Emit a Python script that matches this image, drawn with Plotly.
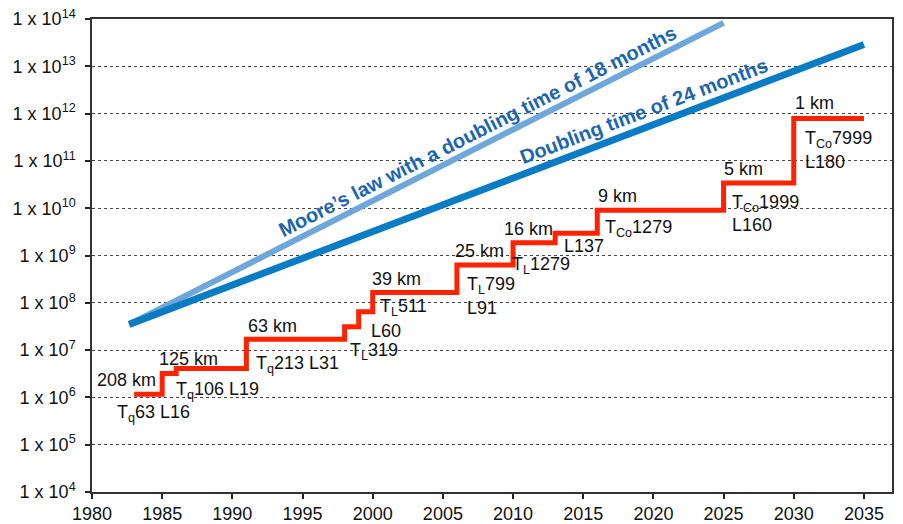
import plotly.graph_objects as go

# ---- data ----
step_years = [1983, 1985, 1986, 1991, 1998, 1999, 2000, 2006, 2010, 2013, 2016, 2025, 2030, 2035]
step_values = [1.17e6, 3.2e6, 4.1e6, 1.7e7, 3.1e7, 6.5e7, 1.66e8, 6.3e8, 1.86e9, 2.95e9, 9.1e9, 3.4e10, 7.9e11, 7.9e11]

moore18_years = [1982.65, 2025.0]
moore18_values = [3.5e7, 8.3e13]
moore24_years = [1982.65, 2035.0]
moore24_values = [3.5e7, 2.9e13]

y_exponents = list(range(4, 15))
x_ticks = list(range(1980, 2036, 5))

label_texts = [
    "208 km", "T<sub>q</sub>63 L16", "125 km", "T<sub>q</sub>106 L19", "63 km",
    "T<sub>q</sub>213 L31", "T<sub>L</sub>319", "L60", "T<sub>L</sub>511", "39 km",
    "25 km", "T<sub>L</sub>799", "L91", "16 km", "T<sub>L</sub>1279", "L137",
    "9 km", "T<sub>Co</sub>1279", "5 km", "T<sub>Co</sub>1999", "L160",
    "1 km", "T<sub>Co</sub>7999", "L180",
]
# label placement (year of left edge, log10 of vertical centre)
label_pos = [
    (1980.19, 6.36), (1981.62, 5.66), (1984.61, 6.82), (1985.82, 6.14), (1990.96, 7.50),
    (1991.53, 6.70), (1998.25, 6.97), (1999.74, 7.40), (2000.39, 7.90), (1999.79, 8.51),
    (2005.73, 9.10), (2006.56, 8.36), (2006.56, 7.90), (2009.20, 9.57), (2009.77, 8.78),
    (2013.46, 9.21), (2015.88, 10.25), (2016.42, 9.57), (2024.86, 10.83), (2025.44, 10.10),
    (2025.44, 9.65), (2029.96, 12.23), (2030.67, 11.46), (2030.67, 10.98),
]

FONT = "Liberation Sans, Arial, Helvetica, sans-serif"

fig = go.Figure()
fig.add_trace(go.Scatter(x=moore18_years, y=moore18_values, mode="lines",
                         line=dict(color="#6EA8DA", width=6), hoverinfo="skip"))
fig.add_trace(go.Scatter(x=moore24_years, y=moore24_values, mode="lines",
                         line=dict(color="#0A7CC4", width=7), hoverinfo="skip"))
fig.add_trace(go.Scatter(x=step_years, y=step_values, mode="lines",
                         line=dict(color="#FF2200", width=5, shape="hv"), hoverinfo="skip"))

annotations = []
for t, (px, py) in zip(label_texts, label_pos):
    annotations.append(dict(x=px, y=py, xref="x", yref="y", text=t, showarrow=False,
                            xanchor="left", yanchor="middle",
                            font=dict(family=FONT, size=18, color="#111111")))

annotations.append(dict(x=2007.49, y=11.64, xref="x", yref="y",
                        text="Moore\u2019s law with a doubling time of 18 months",
                        showarrow=False, textangle=-26.85,
                        font=dict(family=FONT, size=20, color="#1B66AF", weight="bold")))
annotations.append(dict(x=2019.32, y=12.06, xref="x", yref="y",
                        text="Doubling time of 24 months",
                        showarrow=False, textangle=-20.8,
                        font=dict(family=FONT, size=20, color="#1B66AF", weight="bold")))

fig.update_layout(
    width=903, height=524,
    margin=dict(l=92, r=11, t=19, b=32, pad=0),
    paper_bgcolor="white", plot_bgcolor="white",
    showlegend=False,
    font=dict(family=FONT, size=18, color="#111111"),
    annotations=annotations,
)
fig.update_xaxes(range=[1980, 2037], tickvals=x_ticks, ticks="outside", ticklen=5, tickwidth=1.5,
                 tickcolor="#222", showline=True, linecolor="#333", linewidth=1.5, mirror=True,
                 showgrid=False, zeroline=False, tickfont=dict(size=18), automargin=False)
fig.update_yaxes(type="log", range=[4, 14], tickvals=[10 ** e for e in y_exponents],
                 ticktext=[f"1 x 10<sup>{e}</sup>" for e in y_exponents],
                 ticks="outside", ticklen=5, tickwidth=2, tickcolor="#222",
                 showline=True, linecolor="#333", linewidth=1.5, mirror=True,
                 showgrid=True, gridcolor="#444", griddash="dot", gridwidth=1,
                 zeroline=False, tickfont=dict(size=18), ticklabelstandoff=6, automargin=False)

fig.write_html("out.html")
